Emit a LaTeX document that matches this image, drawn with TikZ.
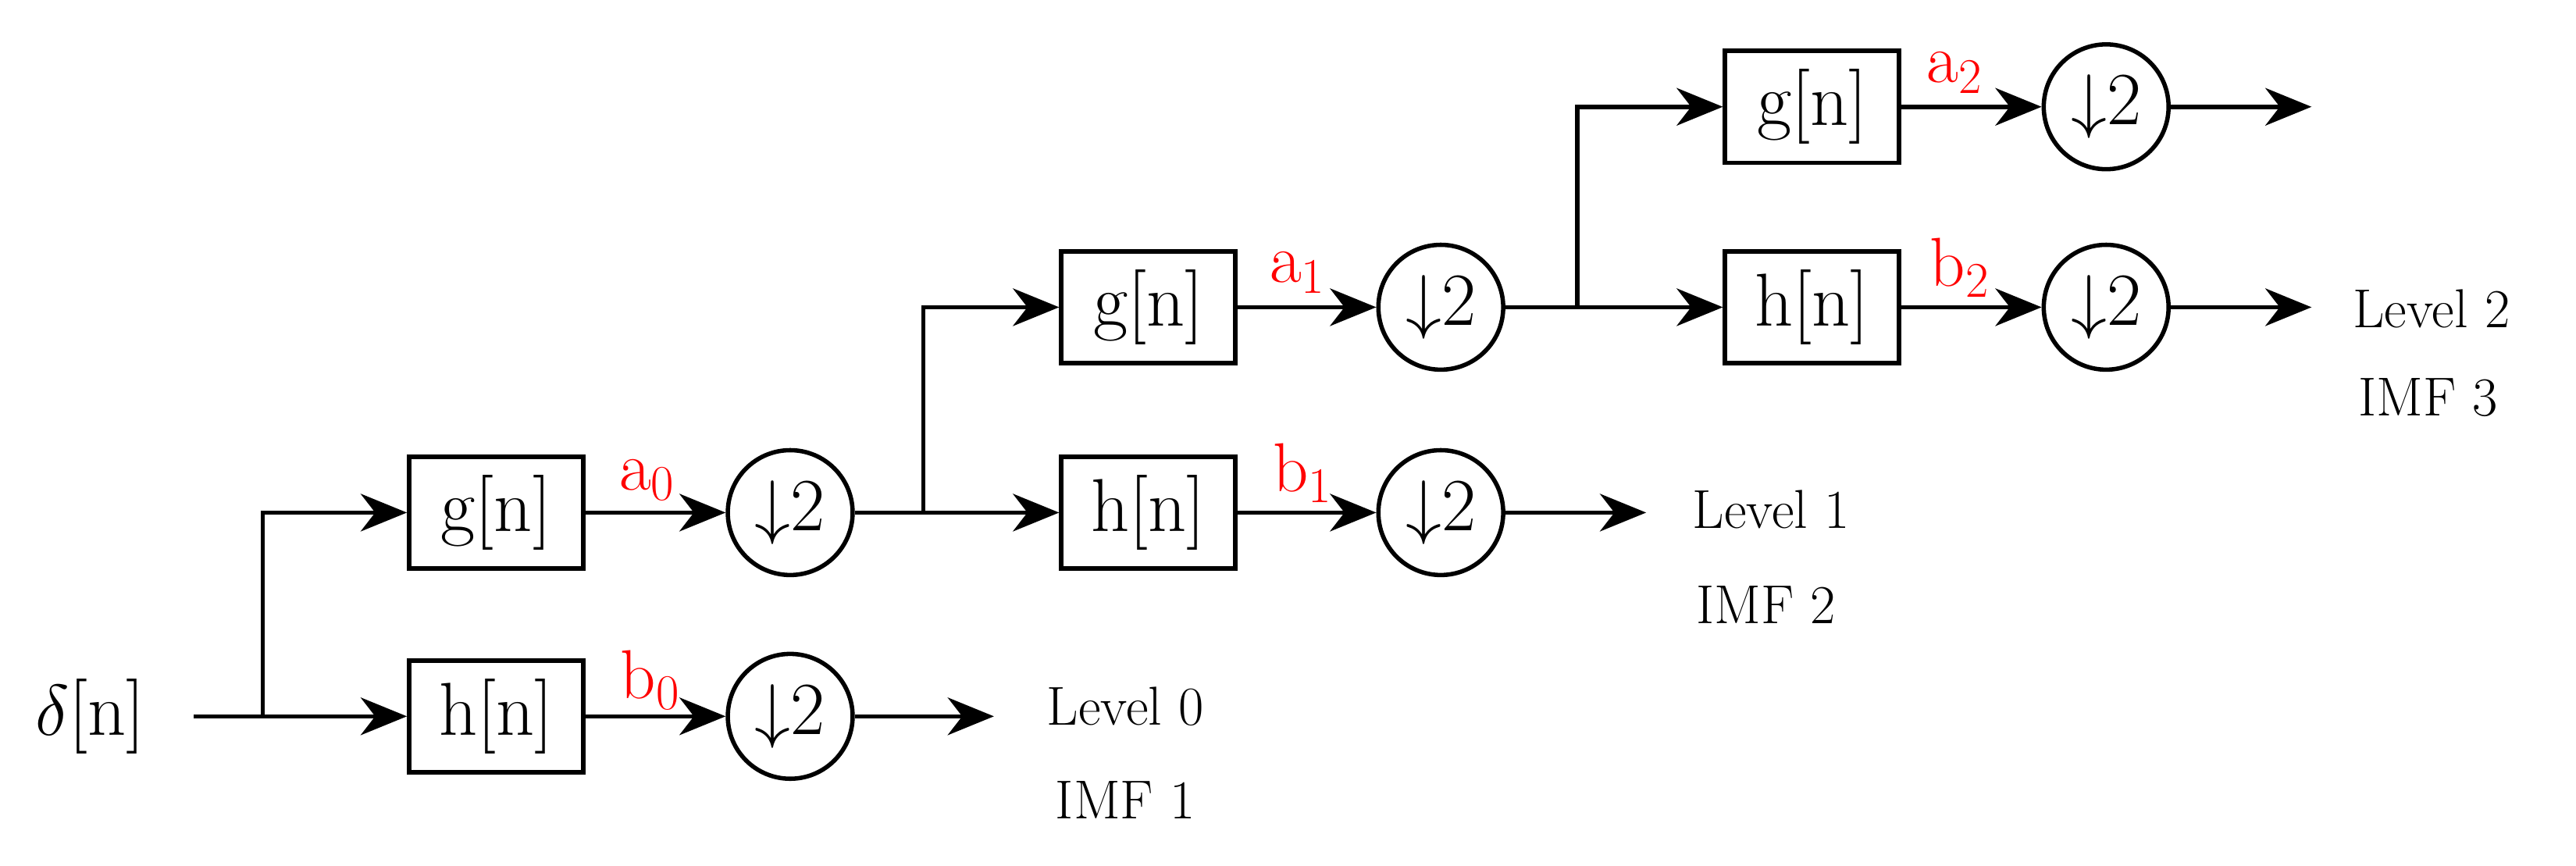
\documentclass[tikz,border=0pt]{standalone}
\usetikzlibrary{arrows.meta}
\begin{document}
\begin{tikzpicture}[x=0.02cm,y=-0.02cm,
  box/.style={draw,line width=1.5pt,minimum width=2.12cm,minimum height=1.36cm,inner sep=0pt,font=\fontsize{26}{30}\selectfont},
  ds/.style={draw,circle,line width=1.5pt,minimum size=1.52cm,inner sep=0pt,font=\fontsize{26}{30}\selectfont},
  lab/.style={text=red,font=\fontsize{24}{28}\selectfont},
  txt/.style={font=\fontsize{19}{22}\selectfont},
  ar/.style={line width=1.5pt,-{Stealth[length=16pt,width=13pt,inset=5pt]}},
  ln/.style={line width=1.5pt}]
\useasboundingbox (0,0) rectangle (1568,527);
\node[font=\fontsize{26}{30}\selectfont] (x) at (55,436) {$\delta$[n]};
\coordinate (xs) at (118,436);
% level 0
\coordinate (s0) at (160,436);
\node[box] (g0) at (302,312) {g[n]};
\node[box] (h0) at (302,436) {h[n]};
\node[ds] (dg0) at (481,312) {$\downarrow$2};
\node[ds] (dh0) at (481,436) {$\downarrow$2};
\coordinate (o0) at (605,436);
\node[lab] (la0) at (394,292) {a$_0$};
\node[lab] (lb0) at (396,414) {b$_0$};
\node[txt] (L0) at (685,430) {Level 0};
\node[txt] (I0) at (685,487) {IMF 1};
\draw[ln] (xs) -- (s0);
\draw[ar] (s0) -- (h0);
\draw[ar] (s0) |- (g0);
\draw[ar] (g0) -- (dg0);
\draw[ar] (h0) -- (dh0);
\draw[ar] (dh0) -- (o0);
% level 1
\coordinate (s1) at (562,312);
\node[box] (g1) at (699,187) {g[n]};
\node[box] (h1) at (699,312) {h[n]};
\node[ds] (dg1) at (877,187) {$\downarrow$2};
\node[ds] (dh1) at (877,312) {$\downarrow$2};
\coordinate (o1) at (1002,312);
\node[lab] (la1) at (790,166) {a$_1$};
\node[lab] (lb1) at (793,288) {b$_1$};
\node[txt] (L1) at (1078,310) {Level 1};
\node[txt] (I1) at (1075,368) {IMF 2};
\draw[ln] (dg0.east) -- (s1);
\draw[ar] (s1) -- (h1);
\draw[ar] (s1) |- (g1);
\draw[ar] (g1) -- (dg1);
\draw[ar] (h1) -- (dh1);
\draw[ar] (dh1) -- (o1);
% level 2
\coordinate (s2) at (960,187);
\node[box] (g2) at (1103,65) {g[n]};
\node[box] (h2) at (1103,187) {h[n]};
\node[ds] (dg2) at (1282,65) {$\downarrow$2};
\node[ds] (dh2) at (1282,187) {$\downarrow$2};
\coordinate (og2) at (1407,65);
\coordinate (o2) at (1407,187);
\node[lab] (la2) at (1190,44) {a$_2$};
\node[lab] (lb2) at (1193,163) {b$_2$};
\node[txt] (L2) at (1480,188) {Level 2};
\node[txt] (I2) at (1478,242) {IMF 3};
\draw[ln] (dg1.east) -- (s2);
\draw[ar] (s2) -- (h2);
\draw[ar] (s2) |- (g2);
\draw[ar] (g2) -- (dg2);
\draw[ar] (h2) -- (dh2);
\draw[ar] (dg2) -- (og2);
\draw[ar] (dh2) -- (o2);
\end{tikzpicture}
\end{document}
